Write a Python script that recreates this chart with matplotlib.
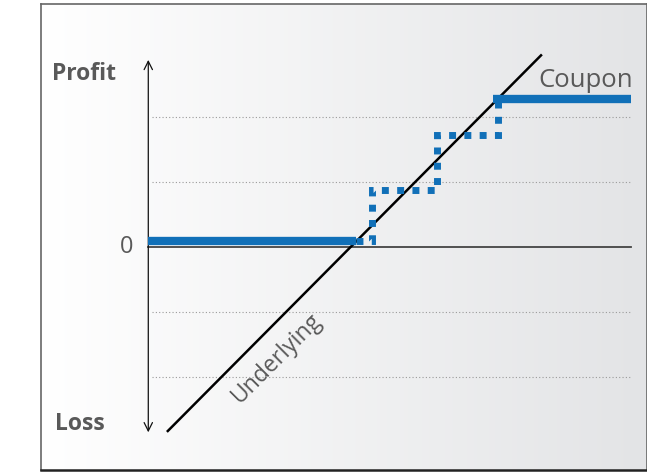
import numpy as np
import matplotlib
matplotlib.use('Agg')
import matplotlib.pyplot as plt

# payoff diagram, units: 1 = one grid step
grid_levels = [-2, -1, 1, 2]
underlying_x = [-2.82, 2.92]
underlying_y = [-2.83, 2.95]
floor_x = [-3.12, 0.08]
floor_y = [0.09, 0.09]
coupon_x = [2.18, 4.31]
coupon_y = [2.28, 2.28]
steps_x = [0.08, 0.32, 0.32, 1.32, 1.32, 2.26, 2.26]
steps_y = [0.09, 0.09, 0.88, 0.88, 1.72, 1.72, 2.28]

blue = '#1170b8'
txt = '#595959'
plt.rcParams['font.family'] = ['Open Sans', 'DejaVu Sans']

fig = plt.figure(figsize=(6.47, 4.76), dpi=100)
ax = fig.add_axes([41 / 647, 6 / 476, 606 / 647, 466 / 476])
xmin, xmax, ymin, ymax = -4.77, 4.55, -3.43, 3.74
ax.set_xlim(xmin, xmax)
ax.set_ylim(ymin, ymax)

# soft grey gradient background
grad = np.linspace(0, 1, 256).reshape(1, -1)
ax.imshow(grad, extent=[xmin, xmax, ymin, ymax], aspect='auto',
          cmap=matplotlib.colors.LinearSegmentedColormap.from_list('bg', ['#ffffff', '#e3e4e6']),
          zorder=0)

for g in grid_levels:
    ax.plot([-3.06, 4.31], [g, g], color='#9a9a9a', lw=0.8, ls=(0, (1, 2)), zorder=1)

ax.plot([-3.12, 4.31], [0, 0], color='#444444', lw=1.3, zorder=2)
ax.annotate('', xy=(-3.12, 2.88), xytext=(-3.12, -2.85),
            arrowprops=dict(arrowstyle='<->,head_length=0.6,head_width=0.3', lw=0.9, color='#111111',
                            shrinkA=0, shrinkB=0), zorder=3)

ax.plot(underlying_x, underlying_y, color='black', lw=1.8, zorder=3)
ax.plot(floor_x, floor_y, color=blue, lw=6, solid_capstyle='butt', zorder=4)
ax.plot(coupon_x, coupon_y, color=blue, lw=6, solid_capstyle='butt', zorder=4)
ax.plot(steps_x, steps_y, color=blue, lw=5, ls=(0, (1, 1.2)),
        dash_capstyle='butt', dash_joinstyle='miter', zorder=4)

ax.text(-4.11, 2.67, 'Profit', fontsize=16.5, fontweight='bold', color=txt, ha='center', va='center')
ax.text(-4.17, -2.72, 'Loss', fontsize=16.5, fontweight='bold', color=txt, ha='center', va='center')
ax.text(-3.45, 0.0, '0', fontsize=17, color=txt, ha='center', va='center')
ax.text(3.6, 2.57, 'Coupon', fontsize=18.5, color=txt, ha='center', va='center')
ax.text(-1.14, -1.71, 'Underlying', fontsize=16.5, color=txt, ha='center', va='center', rotation=45)

ax.set_xticks([])
ax.set_yticks([])
for s in ['left', 'top', 'right']:
    ax.spines[s].set_color('#666666')
    ax.spines[s].set_linewidth(1.2)
ax.spines['bottom'].set_color('#222222')
ax.spines['bottom'].set_linewidth(1.8)

fig.savefig('out.png', dpi=100)
